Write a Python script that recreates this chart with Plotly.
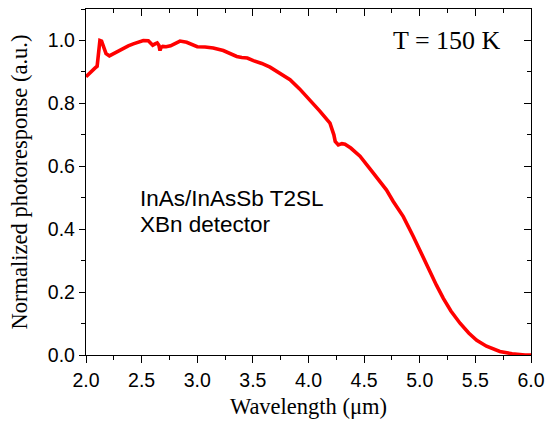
import plotly.graph_objects as go

wavelength = [2.00, 2.04, 2.08, 2.10, 2.11, 2.125, 2.14, 2.16, 2.18, 2.21, 2.245, 2.29, 2.335,
              2.38, 2.425, 2.47, 2.515, 2.56, 2.60, 2.625, 2.64, 2.655, 2.665, 2.675, 2.69, 2.72,
              2.76, 2.80, 2.845, 2.905, 2.96, 3.00, 3.07, 3.144, 3.234, 3.30, 3.355, 3.40, 3.45,
              3.504, 3.58, 3.654, 3.74, 3.834, 3.92, 4.013, 4.10, 4.193, 4.215, 4.228, 4.24,
              4.268, 4.30, 4.328, 4.38, 4.433, 4.463, 4.553, 4.643, 4.70, 4.762, 4.852, 4.942,
              5.02, 5.092, 5.15, 5.212, 5.28, 5.362, 5.44, 5.512, 5.60, 5.72, 5.83, 5.946, 6.0]
response = [0.885, 0.900, 0.912, 0.918, 0.965, 1.000, 0.998, 0.975, 0.958, 0.951, 0.958, 0.968,
            0.976, 0.983, 0.989, 0.995, 1.000, 0.999, 0.985, 0.990, 0.992, 0.985, 0.968, 0.978,
            0.981, 0.980, 0.983, 0.990, 0.998, 0.994, 0.985, 0.980, 0.979, 0.976, 0.968, 0.957,
            0.949, 0.946, 0.944, 0.936, 0.927, 0.915, 0.897, 0.875, 0.846, 0.811, 0.776, 0.737,
            0.716, 0.700, 0.679, 0.668, 0.672, 0.670, 0.658, 0.642, 0.632, 0.592, 0.551, 0.525,
            0.488, 0.440, 0.377, 0.318, 0.262, 0.222, 0.180, 0.140, 0.101, 0.070, 0.047, 0.028,
            0.011, 0.004, 0.000, 0.000]

x_ticks = [2.0, 2.5, 3.0, 3.5, 4.0, 4.5, 5.0, 5.5, 6.0]
y_ticks = [0.0, 0.2, 0.4, 0.6, 0.8, 1.0]

x_range = [2.0, 6.0]
y_range = [0.0, 1.1]

SERIF = "Liberation Serif, Times New Roman, serif"
SANS = "Liberation Sans, Arial, sans-serif"

fig = go.Figure()
fig.add_trace(go.Scatter(x=wavelength, y=response, mode="lines",
                         line=dict(color="#ff0000", width=3.6), showlegend=False,
                         hoverinfo="skip"))
# dummy trace for the mirrored (top/right) axes
fig.add_trace(go.Scatter(x=[x_range[0]], y=[y_range[0]], xaxis="x2", yaxis="y2",
                         mode="markers", marker=dict(opacity=0), showlegend=False,
                         hoverinfo="skip"))

axis_common = dict(showline=True, linecolor="black", linewidth=1.3, showgrid=False,
                   zeroline=False, tickcolor="black", tickwidth=1.3, automargin=False)

fig.update_layout(
    width=546, height=421,
    margin=dict(l=86, r=15, t=9, b=66),
    paper_bgcolor="white", plot_bgcolor="white",
    xaxis=dict(range=x_range, tickvals=x_ticks, ticktext=[f"{v:.1f}" for v in x_ticks],
               ticks="outside", ticklen=7,
               minor=dict(dtick=0.25, tick0=2.0, ticks="outside", ticklen=4,
                          tickcolor="black", tickwidth=1.3),
               tickfont=dict(family=SANS, size=19.5, color="black"),
               title=dict(text="Wavelength (μm)", font=dict(family=SERIF, size=22.5, color="black"),
                          standoff=8),
               **axis_common),
    yaxis=dict(range=y_range, tickvals=y_ticks, ticktext=[f"{v:.1f}" for v in y_ticks],
               ticks="outside", ticklen=6,
               minor=dict(dtick=0.1, tick0=0.0, ticks="outside", ticklen=4,
                          tickcolor="black", tickwidth=1.3),
               tickfont=dict(family=SANS, size=19.5, color="black"),
               title=dict(text="Normalized photoresponse (a.u.)",
                          font=dict(family=SERIF, size=22.5, color="black"), standoff=13),
               **axis_common),
    xaxis2=dict(range=x_range, overlaying="x", side="top", anchor="y2",
                tickvals=x_ticks, showticklabels=False, ticks="inside", ticklen=7,
                minor=dict(dtick=0.25, tick0=2.0, ticks="inside", ticklen=4,
                           tickcolor="black", tickwidth=1.3),
                **axis_common),
    yaxis2=dict(range=y_range, overlaying="y", side="right", anchor="x2",
                tickvals=y_ticks, showticklabels=False, ticks="inside", ticklen=7,
                minor=dict(dtick=0.1, tick0=0.0, ticks="inside", ticklen=4,
                           tickcolor="black", tickwidth=1.3),
                **axis_common),
    annotations=[
        dict(text="T = 150 K", x=5.75, y=1.0, xref="x", yref="y", xanchor="right",
             yanchor="middle", showarrow=False,
             font=dict(family=SERIF, size=26, color="black")),
        dict(text="InAs/InAsSb T2SL", x=2.47, y=0.496, xref="x", yref="y", xanchor="left",
             yanchor="middle", showarrow=False,
             font=dict(family=SANS, size=22.5, color="black")),
        dict(text="XBn detector", x=2.47, y=0.414, xref="x", yref="y", xanchor="left",
             yanchor="middle", showarrow=False,
             font=dict(family=SANS, size=22.5, color="black")),
    ],
)

fig.write_html("out.html", config={"displayModeBar": False},
               post_script="document.body.style.margin='0';")
